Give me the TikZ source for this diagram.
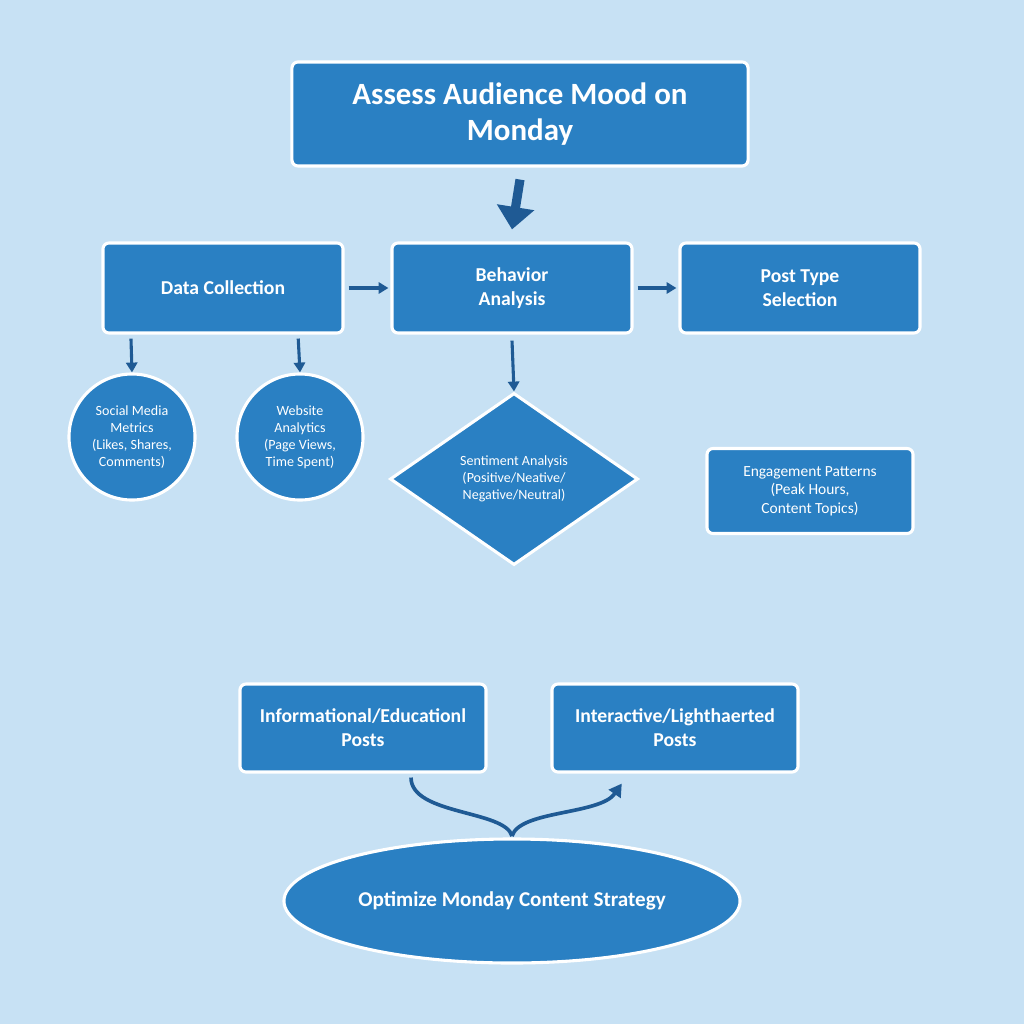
\documentclass[tikz,border=0pt]{standalone}
\usepackage{fontspec}
\setmainfont{Carlito}
\usetikzlibrary{shapes.geometric,arrows.meta}
\definecolor{bgblue}{HTML}{C7E1F4}
\definecolor{boxblue}{HTML}{2A80C3}
\definecolor{arrblue}{HTML}{1F5A94}
\tikzset{
  box/.style={draw=white, line width=2.2pt, fill=boxblue, rounded corners=0.15cm,
    text=white, font=\bfseries\fontsize{14}{17}\selectfont, align=center},
  circ/.style={circle, draw=white, line width=2.2pt, fill=boxblue, text=white,
    minimum size=3.15cm, inner sep=0pt, font=\fontsize{10}{12}\selectfont, align=center},
  arr/.style={-{Triangle[length=7pt,width=8pt]}, arrblue, line width=2.2pt},
}
\begin{document}
\begin{tikzpicture}[x=0.025cm,y=-0.025cm]
\fill[bgblue] (0,0) rectangle (1024,1024);

\node[box, minimum width=11.4cm, minimum height=2.6cm, font=\bfseries\fontsize{22}{26}\selectfont] (assess) at (520,114) {Assess Audience Mood on\\Monday};

\node[box, minimum width=6cm, minimum height=2.25cm] (data) at (223,288) {Data Collection};
\node[box, minimum width=6cm, minimum height=2.25cm] (behav) at (512,288) {Behavior\\Analysis};
\node[box, minimum width=6cm, minimum height=2.25cm] (post) at (800,288) {Post Type\\Selection};

\node[circ] (social) at (132,437) {Social Media\\Metrics\\(Likes, Shares,\\Comments)};
\node[circ] (web) at (300,437) {Website\\Analytics\\(Page Views,\\Time Spent)};
\node[diamond, draw=white, line width=2.2pt, fill=boxblue, text=white, minimum width=6.2cm,
  minimum height=4.3cm, inner sep=0pt, font=\fontsize{10}{12}\selectfont, align=center] (senti) at (514,479)
  {Sentiment Analysis\\(Positive/Neative/\\Negative/Neutral)};
\node[box, minimum width=5.15cm, minimum height=2.125cm, font=\fontsize{11}{13}\selectfont] (engage) at (810,491)
  {Engagement Patterns\\(Peak Hours,\\Content Topics)};

\node[box, minimum width=6.15cm, minimum height=2.2cm] (info) at (363,728) {Informational/Educationl\\Posts};
\node[box, minimum width=6.15cm, minimum height=2.2cm] (inter) at (675,728) {Interactive/Lighthaerted\\Posts};
\node[ellipse, draw=white, line width=2.2pt, fill=boxblue, text=white, minimum width=11.4cm,
  minimum height=3.1cm, font=\bfseries\fontsize{15}{18}\selectfont] (optim) at (512,901) {Optimize Monday Content Strategy};

% big arrow
\draw[arrblue, line width=6.5pt, -{Triangle[length=16pt,width=26pt]}] ([yshift=-0.3cm]assess.south) -- ([yshift=0.3cm]behav.north);

\draw[arr] (data.east) ++(4,0) -- ([xshift=-0.05cm]behav.west);
\draw[arr] (behav.east) ++(4,0) -- ([xshift=-0.05cm]post.west);
\draw[arr] ([xshift=-2.3cm,yshift=-0.1cm]data.south) -- (social.north);
\draw[arr] ([xshift=1.88cm,yshift=-0.1cm]data.south) -- (web.north);
\draw[arr] ([yshift=-0.15cm]behav.south) -- (senti.north);

% fork from posts into strategy
\coordinate (fork) at (512,836);
\draw[arrblue, line width=2.6pt] ([xshift=1.2cm,yshift=-0.1cm]info.south) .. controls (411,815) and (505,810) .. (fork);
\draw[arrblue, line width=2.6pt, -{Triangle[length=9pt,width=10pt]}] (fork) .. controls (520,810) and (600,815) .. ([xshift=-1.33cm,yshift=-0.25cm]inter.south);
\end{tikzpicture}
\end{document}
